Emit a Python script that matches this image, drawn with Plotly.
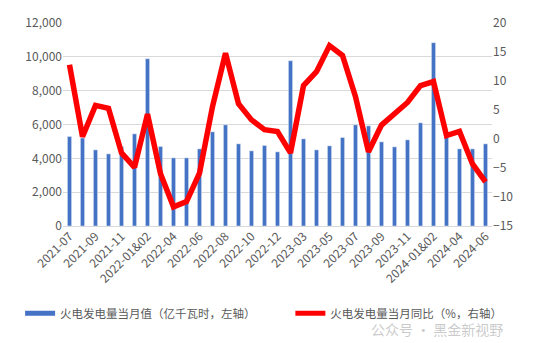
import plotly.graph_objects as go

# Monthly thermal power output (100 million kWh) and YoY growth (%)
categories = [
    "2021-07", "2021-08", "2021-09", "2021-10", "2021-11", "2021-12",
    "2022-01&02", "2022-03", "2022-04", "2022-05", "2022-06", "2022-07",
    "2022-08", "2022-09", "2022-10", "2022-11", "2022-12",
    "2023-01&02", "2023-03", "2023-04", "2023-05", "2023-06", "2023-07",
    "2023-08", "2023-09", "2023-10", "2023-11", "2023-12",
    "2024-01&02", "2024-03", "2024-04", "2024-05", "2024-06",
]
output_values = [
    5290, 5200, 4500, 4263, 4697, 5447,
    9888, 4697, 4026, 4026, 4559, 5566,
    5980, 4855, 4441, 4757, 4382,
    9770, 5151, 4500, 4737, 5230, 5980,
    5921, 4974, 4678, 5092, 6099,
    10836, 5250, 4559, 4559, 4855,
]
yoy_values = [
    12.8, 0.4, 5.8, 5.3, -2.4, -4.9,
    4.3, -6.0, -11.7, -10.8, -5.9, 5.6,
    14.8, 6.1, 3.3, 1.6, 1.3,
    -2.4, 9.2, 11.6, 16.1, 14.4, 7.3,
    -2.2, 2.4, 4.2, 6.3, 9.2,
    9.9, 0.6, 1.3, -4.3, -7.4,
]
tick_labels = categories[::2]

bar_name = "火电发电量当月值（亿千瓦时，左轴）"
line_name = "火电发电量当月同比（%，右轴）"
bar_color = "#4472C4"
line_color = "#FF0000"
text_color = "#595959"
font_family = "Noto Sans CJK SC, Liberation Sans, sans-serif"

fig = go.Figure()
fig.add_trace(go.Bar(
    x=categories, y=output_values, name=bar_name,
    marker_color=bar_color, showlegend=False, yaxis="y",
))
fig.add_trace(go.Scatter(
    x=categories, y=yoy_values, name=line_name, mode="lines",
    line=dict(color=line_color, width=5.5), showlegend=False, yaxis="y2",
))
# legend entries drawn as thick line swatches, one legend box each
fig.add_trace(go.Scatter(
    x=[None], y=[None], mode="lines", name=bar_name,
    line=dict(color=bar_color, width=5), legend="legend",
))
fig.add_trace(go.Scatter(
    x=[None], y=[None], mode="lines", name=line_name,
    line=dict(color=line_color, width=5), yaxis="y2", legend="legend2",
))

legend_style = dict(
    orientation="h", yanchor="middle", xanchor="left",
    font=dict(size=11.5, color=text_color), bgcolor="rgba(0,0,0,0)",
)

fig.update_layout(
    width=538, height=343,
    margin=dict(l=63, r=46, t=23, b=117),
    paper_bgcolor="white", plot_bgcolor="white",
    font=dict(family=font_family, size=11, color=text_color),
    bargap=0.68,
    xaxis=dict(
        type="category", tickmode="array", tickvals=tick_labels,
        ticktext=tick_labels, tickangle=-45, showgrid=False,
        showline=False, ticks="", tickfont=dict(size=12, color=text_color),
    ),
    yaxis=dict(
        range=[0, 12000], dtick=2000, tickformat=",", showgrid=True,
        gridcolor="#D9D9D9", gridwidth=1.3, zeroline=True,
        zerolinecolor="#D9D9D9", zerolinewidth=1.3, ticks="",
        tickfont=dict(size=12, color=text_color),
    ),
    yaxis2=dict(
        range=[-15, 20], dtick=5, overlaying="y", side="right",
        showgrid=False, zeroline=False, ticks="",
        tickfont=dict(size=12, color=text_color),
    ),
    legend=dict(x=-0.10, y=-0.43, **legend_style),
    legend2=dict(x=0.53, y=-0.43, **legend_style),
    annotations=[dict(
        text="公众号 · 黑金新视野", xref="paper", yref="paper",
        x=1.03, y=-0.505, xanchor="right", yanchor="middle", showarrow=False,
        font=dict(size=14, color="rgba(150,150,150,0.5)", family=font_family),
    )],
)

fig.write_html("out.html")
